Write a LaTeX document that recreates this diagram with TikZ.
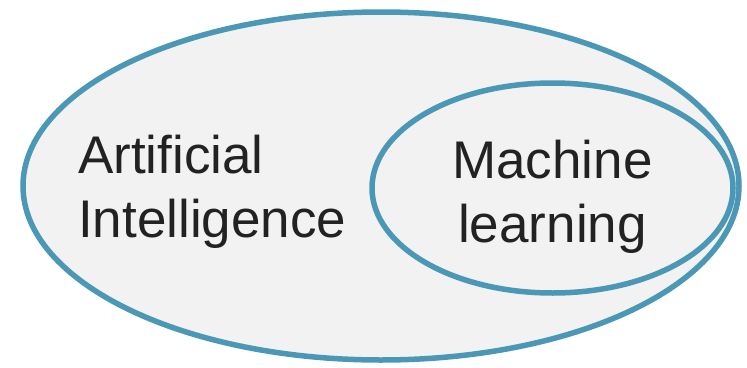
\documentclass[tikz,border=0pt]{standalone}
\usepackage{fontspec}
\setmainfont{Liberation Sans}
\usetikzlibrary{shapes.geometric}
\definecolor{ring}{HTML}{4A98B6}
\definecolor{setfill}{HTML}{F2F2F2}
\definecolor{ink}{HTML}{222222}
\tikzset{
  setshape/.style={draw=ring, fill=setfill, line width=5.5pt, ellipse, inner sep=0pt},
  setlabel/.style={text=ink, inner sep=0pt, font=\fontsize{53}{64}\selectfont}
}
\begin{document}
\begin{tikzpicture}[x=1pt,y=-1pt]
\useasboundingbox (0,0) rectangle (747,367);
\node[setshape, minimum width=716pt, minimum height=348pt] (ai) at (381,186) {};
\node[setshape, minimum width=361pt, minimum height=210pt] (ml) at (552.5,188) {};
\node[setlabel, align=left, anchor=base west] (ailabel) at (78,237) {Artificial\\Intelligence};
\node[setlabel, align=center, anchor=base] (mllabel) at (552.5,242) {Machine\\learning};
\end{tikzpicture}
\end{document}
